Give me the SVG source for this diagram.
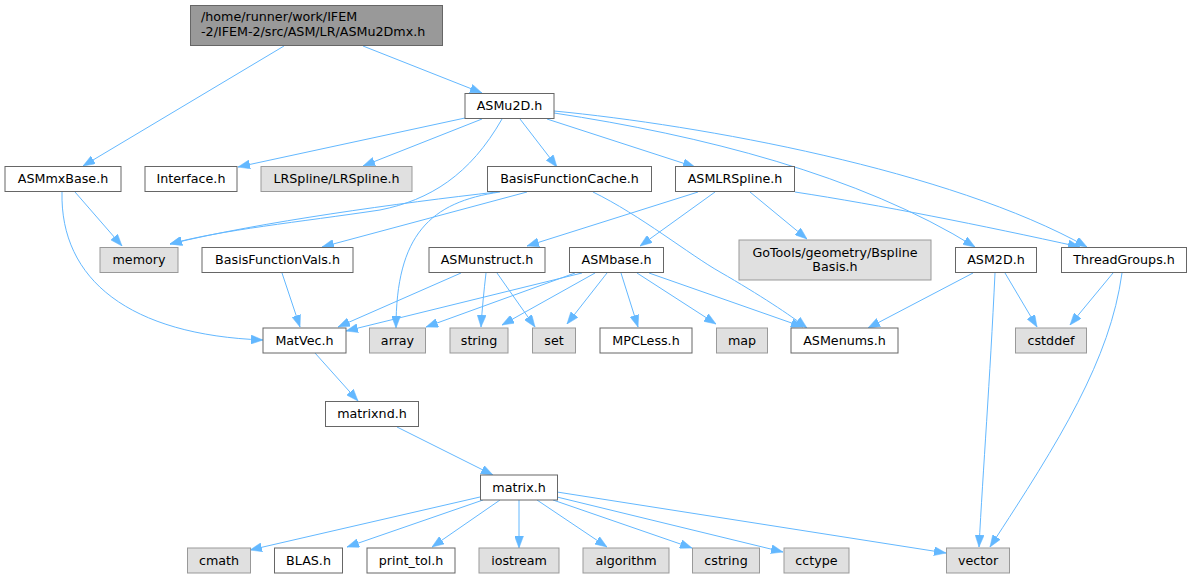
<svg xmlns="http://www.w3.org/2000/svg" width="1193" height="579" viewBox="0 0 1193 579">
<style>
.n rect{fill:#ffffff;stroke:#666666;stroke-width:1}
.n.g rect{fill:#e0e0e0;stroke:#999999}
.n.r rect{fill:#999999;stroke:#666666}
.n text{font-family:"DejaVu Sans",sans-serif;font-size:12.7px;fill:#000000;text-anchor:middle}
.n.r text{text-anchor:start}
#edges path{fill:none;stroke:#63b8ff;stroke-width:1;marker-end:url(#ah)}
</style>
<defs>
<marker id="ah" viewBox="0 0 12 9" refX="12" refY="4.5" markerWidth="12" markerHeight="9" markerUnits="userSpaceOnUse" orient="auto">
<path d="M0,0 L12,4.5 L0,9 z" fill="#63b8ff" stroke="#63b8ff" stroke-width="0.5"/>
</marker>
</defs>
<rect width="1193" height="579" fill="#ffffff"/>
<g id="edges">
<path d="M284,46 L83,166"/>
<path d="M363,46 L482,93"/>
<path d="M465,118 L238,167"/>
<path d="M482,119 L363,166"/>
<path d="M502,119 C470,175 430,200 380,210 C300,222 220,230 170,244"/>
<path d="M520,119 L557,167"/>
<path d="M547,119 L695,167"/>
<path d="M554,113 C700,135 860,175 975,247"/>
<path d="M554,111 C700,125 950,170 1087,247"/>
<path d="M497,192 C400,203 260,222 170,244"/>
<path d="M527,192 L322,247"/>
<path d="M500,192 C430,202 396,235 396,328"/>
<path d="M593,192 C640,215 690,255 720,272 C760,295 790,315 807,328"/>
<path d="M698,192 L527,246"/>
<path d="M715,192 L640,246"/>
<path d="M750,192 L807,239"/>
<path d="M795,192 C880,205 980,225 1080,247"/>
<path d="M75,192 L122,246"/>
<path d="M62,192 C60,280 130,335 263,340"/>
<path d="M282,273 L300,327"/>
<path d="M461,273 L338,327"/>
<path d="M486,273 C484,290 482,310 481,327"/>
<path d="M497,273 L535,327"/>
<path d="M582,273 L346,331"/>
<path d="M575,273 L426,327"/>
<path d="M595,273 L502,325"/>
<path d="M607,273 L567,324"/>
<path d="M621,273 L638,327"/>
<path d="M637,273 L716,324"/>
<path d="M649,273 L803,327"/>
<path d="M973,273 L868,328"/>
<path d="M1005,273 L1037,327"/>
<path d="M995,273 C990,380 983,470 979,547"/>
<path d="M1113,273 L1070,325"/>
<path d="M1122,273 C1110,360 1060,440 990,547"/>
<path d="M315,353 L358,401"/>
<path d="M397,427 L493,475"/>
<path d="M480,497 L250,550"/>
<path d="M483,500 L347,547"/>
<path d="M500,500 L432,547"/>
<path d="M519,500 L519,548"/>
<path d="M537,500 L607,547"/>
<path d="M553,500 L692,548"/>
<path d="M557,497 L783,552"/>
<path d="M557,492 L946,553"/>
</g>
<g id="root" class="n r"><rect x="190.5" y="5.5" width="252" height="40"/><text x="201" y="20.5">/home/runner/work/IFEM</text><text x="201" y="36">-2/IFEM-2/src/ASM/LR/ASMu2Dmx.h</text></g>
<g id="ASMu2D" class="n"><rect x="465" y="93.5" width="89" height="25"/><text x="509.5" y="110">ASMu2D.h</text></g>
<g id="ASMmxBase" class="n"><rect x="5" y="166.5" width="116" height="25"/><text x="63" y="183">ASMmxBase.h</text></g>
<g id="Interface" class="n"><rect x="145" y="166.5" width="92" height="25"/><text x="191" y="183">Interface.h</text></g>
<g id="LRSpline" class="n g"><rect x="261" y="166.5" width="151" height="25"/><text x="336.5" y="183">LRSpline/LRSpline.h</text></g>
<g id="BasisFunctionCache" class="n"><rect x="487.5" y="166.5" width="164" height="25"/><text x="569.5" y="183">BasisFunctionCache.h</text></g>
<g id="ASMLRSpline" class="n"><rect x="675.5" y="166.5" width="119" height="25"/><text x="735" y="183">ASMLRSpline.h</text></g>
<g id="GoTools" class="n g"><rect x="739" y="240" width="192" height="40"/><text x="835" y="256.5">GoTools/geometry/Bspline</text><text x="835" y="270.5">Basis.h</text></g>
<g id="ASM2D" class="n"><rect x="955.5" y="247.5" width="81" height="25"/><text x="996" y="264">ASM2D.h</text></g>
<g id="ThreadGroups" class="n"><rect x="1061.5" y="247.5" width="125" height="25"/><text x="1124" y="264">ThreadGroups.h</text></g>
<g id="memory" class="n g"><rect x="100" y="247.5" width="78" height="25"/><text x="139" y="264">memory</text></g>
<g id="BasisFunctionVals" class="n"><rect x="202" y="247.5" width="151" height="25"/><text x="277.5" y="264">BasisFunctionVals.h</text></g>
<g id="ASMunstruct" class="n"><rect x="429" y="247.5" width="116" height="25"/><text x="487" y="264">ASMunstruct.h</text></g>
<g id="ASMbase" class="n"><rect x="569.5" y="247.5" width="94" height="25"/><text x="616.5" y="264">ASMbase.h</text></g>
<g id="MatVec" class="n"><rect x="263" y="328" width="83" height="25"/><text x="304.5" y="344.5">MatVec.h</text></g>
<g id="array" class="n g"><rect x="369.5" y="328" width="56" height="25"/><text x="397.5" y="344.5">array</text></g>
<g id="string" class="n g"><rect x="450" y="328" width="58" height="25"/><text x="479" y="344.5">string</text></g>
<g id="set" class="n g"><rect x="532.5" y="328" width="43" height="25"/><text x="554" y="344.5">set</text></g>
<g id="MPCLess" class="n"><rect x="600" y="328" width="92" height="25"/><text x="646" y="344.5">MPCLess.h</text></g>
<g id="map" class="n g"><rect x="716.5" y="328" width="51" height="25"/><text x="742" y="344.5">map</text></g>
<g id="ASMenums" class="n"><rect x="791" y="328" width="107" height="25"/><text x="844.5" y="344.5">ASMenums.h</text></g>
<g id="cstddef" class="n g"><rect x="1015.5" y="328" width="71" height="25"/><text x="1051" y="344.5">cstddef</text></g>
<g id="matrixnd" class="n"><rect x="325.5" y="401.5" width="93" height="25"/><text x="372" y="418">matrixnd.h</text></g>
<g id="matrix" class="n"><rect x="480.5" y="475" width="77" height="25"/><text x="519" y="491.5">matrix.h</text></g>
<g id="cmath" class="n g"><rect x="187.5" y="548" width="63" height="25"/><text x="219" y="564.5">cmath</text></g>
<g id="BLAS" class="n"><rect x="274.5" y="548" width="68" height="25"/><text x="308.5" y="564.5">BLAS.h</text></g>
<g id="print_tol" class="n"><rect x="367" y="548" width="88" height="25"/><text x="411" y="564.5">print_tol.h</text></g>
<g id="iostream" class="n g"><rect x="479" y="548" width="80" height="25"/><text x="519" y="564.5">iostream</text></g>
<g id="algorithm" class="n g"><rect x="583" y="548" width="86" height="25"/><text x="626" y="564.5">algorithm</text></g>
<g id="cstring" class="n g"><rect x="692.5" y="548" width="67" height="25"/><text x="726" y="564.5">cstring</text></g>
<g id="cctype" class="n g"><rect x="784" y="548" width="65" height="25"/><text x="816.5" y="564.5">cctype</text></g>
<g id="vector" class="n g"><rect x="946.5" y="548" width="63" height="25"/><text x="978" y="564.5">vector</text></g>
</svg>
